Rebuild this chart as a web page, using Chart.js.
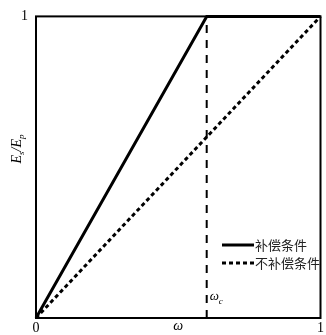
<!DOCTYPE html>
<html>
<head>
<meta charset="utf-8">
<script src="https://cdn.jsdelivr.net/npm/chart.js@4"></script>
<style>
  html, body { margin: 0; padding: 0; background: #fff; }
  canvas { display: block; }
</style>
</head>
<body>
<canvas id="chart" width="326" height="335"></canvas>
<script>
// data
const omegaC = 0.6;
const compX = [0, 0.6, 1];
const compY = [0, 1, 1];
const uncompX = [0, 1];
const uncompY = [0, 1];
const cutX = [0.6, 0.6];
const cutY = [0, 1];
const xTicks = [0, 1];
const yTicks = [1];
const legendLabels = ['补偿条件', '不补偿条件'];

const serif = "'Liberation Serif', 'DejaVu Serif', serif";
const cjk = "'Noto Sans CJK SC', sans-serif";

function toPoints(xs, ys) {
    return xs.map((x, i) => ({ x: x, y: ys[i] }));
}

// box round the plot, legend, y title and the omega_c label
const extras = {
    id: 'extras',
    afterDraw(chart) {
        const ctx = chart.ctx;
        const a = chart.chartArea;
        const xs = chart.scales.x;
        ctx.save();

        ctx.strokeStyle = '#000';
        ctx.lineWidth = 2;
        ctx.strokeRect(a.left, a.top, a.right - a.left, a.bottom - a.top);

        // legend
        const styles = [
            { dash: [], width: 3 },
            { dash: [4, 3], width: 3 }
        ];
        const rows = [245, 263];
        legendLabels.forEach((label, i) => {
            ctx.beginPath();
            ctx.setLineDash(styles[i].dash);
            ctx.lineWidth = styles[i].width;
            ctx.moveTo(222, rows[i]);
            ctx.lineTo(254, rows[i]);
            ctx.stroke();
            ctx.setLineDash([]);
            ctx.fillStyle = '#222';
            ctx.font = '13px ' + cjk;
            ctx.textAlign = 'left';
            ctx.textBaseline = 'middle';
            ctx.fillText(label, 255, rows[i]);
        });

        // omega_c next to the cut-off line
        const cx = xs.getPixelForValue(omegaC);
        ctx.fillStyle = '#000';
        ctx.textBaseline = 'alphabetic';
        ctx.font = 'italic 13px ' + serif;
        ctx.fillText('ω', cx + 3, 300);
        ctx.font = 'italic 9px ' + serif;
        ctx.fillText('c', cx + 12, 304);

        // y axis title E_s/E_p, rotated
        ctx.translate(16, 149);
        ctx.rotate(-Math.PI / 2);
        const parts = [
            { t: 'E', f: 'italic 14px ' + serif, dy: 0 },
            { t: 's', f: 'italic 9px ' + serif, dy: 3 },
            { t: '/', f: 'italic 14px ' + serif, dy: 0 },
            { t: 'E', f: 'italic 14px ' + serif, dy: 0 },
            { t: 'p', f: 'italic 9px ' + serif, dy: 3 }
        ];
        let total = 0;
        parts.forEach(p => { ctx.font = p.f; total += ctx.measureText(p.t).width; });
        let x = -total / 2;
        parts.forEach(p => {
            ctx.font = p.f;
            ctx.fillText(p.t, x, 5 + p.dy);
            x += ctx.measureText(p.t).width;
        });
        ctx.restore();
    }
};

new Chart(document.getElementById('chart'), {
    type: 'line',
    data: {
        datasets: [
            {
                label: legendLabels[0],
                data: toPoints(compX, compY),
                borderColor: '#000',
                borderWidth: 3,
                pointRadius: 0,
                clip: false
            },
            {
                label: legendLabels[1],
                data: toPoints(uncompX, uncompY),
                borderColor: '#000',
                borderWidth: 3,
                borderDash: [4, 3],
                pointRadius: 0,
                clip: false
            },
            {
                label: 'ωc',
                data: toPoints(cutX, cutY),
                borderColor: '#000',
                borderWidth: 2,
                borderDash: [8, 7],
                pointRadius: 0,
                clip: false
            }
        ]
    },
    options: {
        responsive: false,
        animation: false,
        layout: { padding: { top: 14, right: 3, left: 0, bottom: 0 } },
        plugins: {
            legend: { display: false },
            tooltip: { enabled: false }
        },
        scales: {
            x: {
                type: 'linear',
                min: 0,
                max: 1,
                afterBuildTicks: (s) => { s.ticks = xTicks.map(v => ({ value: v })); },
                afterFit: (s) => { s.height = 17; },
                grid: { display: false, drawTicks: false },
                border: { display: false },
                ticks: {
                    color: '#000',
                    padding: 2,
                    maxRotation: 0,
                    font: { family: serif, size: 14 }
                },
                title: {
                    display: true,
                    text: 'ω',
                    color: '#000',
                    padding: 0,
                    font: { family: serif, size: 14, style: 'italic' }
                }
            },
            y: {
                type: 'linear',
                min: 0,
                max: 1,
                afterBuildTicks: (s) => { s.ticks = yTicks.map(v => ({ value: v })); },
                afterFit: (s) => { s.width = 36; },
                grid: { display: false, drawTicks: false },
                border: { display: false },
                ticks: {
                    color: '#000',
                    padding: 8,
                    font: { family: serif, size: 14 }
                }
            }
        }
    },
    plugins: [extras]
});
</script>
</body>
</html>
